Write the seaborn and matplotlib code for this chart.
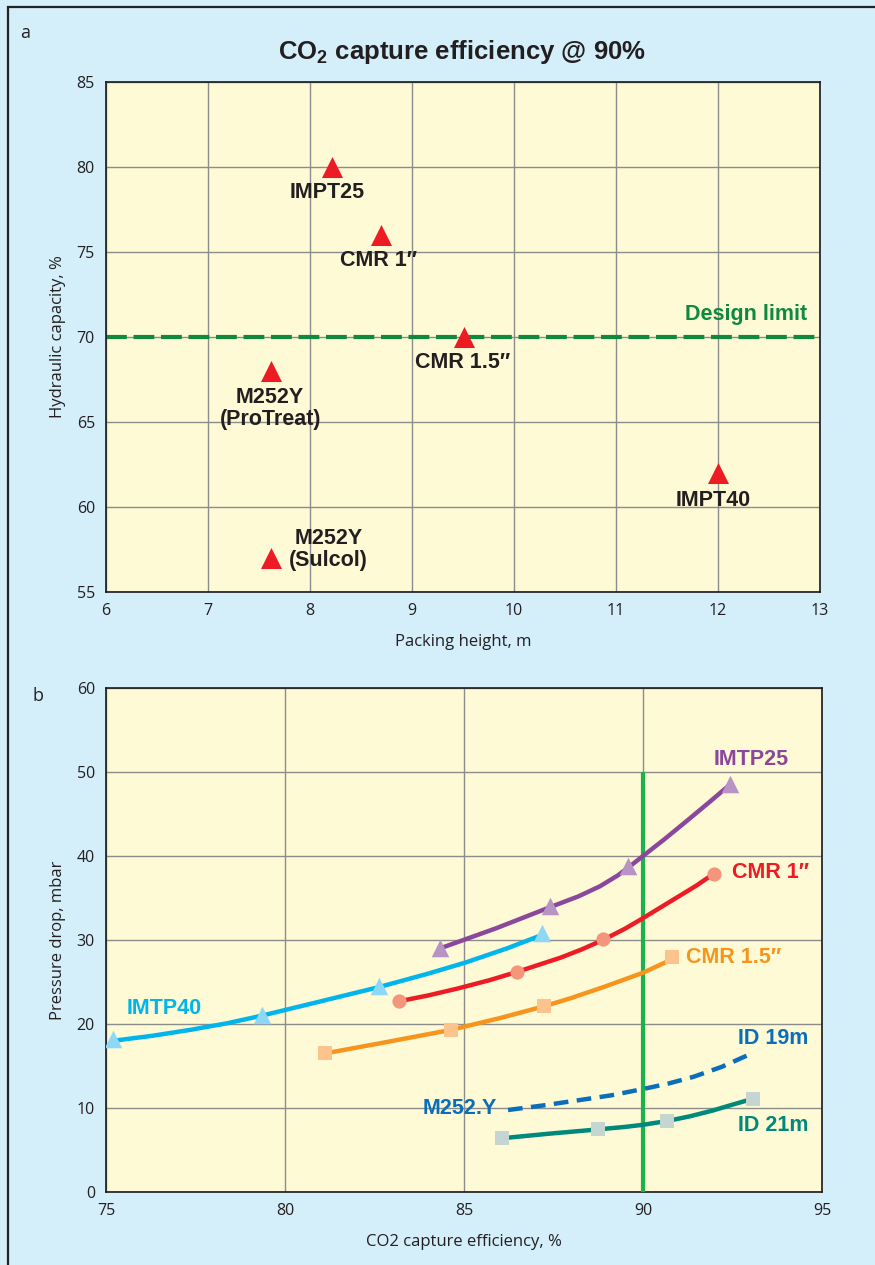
import matplotlib
matplotlib.use("Agg")
import matplotlib.pyplot as plt
from matplotlib.patches import Rectangle
import seaborn as sns
import pandas as pd

# ---------------- data: panel a ----------------
packings_a = ["IMPT25", "CMR 1\u2033", "CMR 1.5\u2033", "M252Y\n(ProTreat)", "IMPT40", "M252Y\n(Sulcol)"]
packing_height = [8.22, 8.70, 9.51, 7.62, 12.00, 7.62]
hydraulic_capacity = [80.0, 76.0, 70.0, 68.0, 62.0, 57.0]
design_limit = 70.0
xticks_a = [6, 7, 8, 9, 10, 11, 12, 13]
yticks_a = [55, 60, 65, 70, 75, 80, 85]

# ---------------- data: panel b ----------------
# measured points (markers)
imtp40_x = [75.2, 79.36, 82.63, 87.18]
imtp40_y = [18.2, 21.1, 24.5, 30.8]
imtp25_x = [84.33, 87.4, 89.58, 92.43]
imtp25_y = [29.0, 34.0, 38.8, 48.6]
cmr1_x = [83.18, 86.48, 88.88, 91.98]
cmr1_y = [22.7, 26.2, 30.1, 37.9]
cmr15_x = [81.12, 84.64, 87.23, 90.81]
cmr15_y = [16.5, 19.3, 22.1, 28.0]
id21_x = [86.06, 88.74, 90.67, 93.07]
id21_y = [6.4, 7.5, 8.45, 11.1]

# fitted curves through the points
imtp40_cx = [75.2, 76.3, 77.35, 78.4, 79.36, 81.0, 82.63, 84.0, 85.03, 86.2, 87.18]
imtp40_cy = [18.0, 18.6, 19.3, 20.1, 21.0, 22.7, 24.4, 26.0, 27.3, 29.0, 30.6]
imtp25_cx = [84.33, 85.9, 87.4, 88.2, 88.8, 89.3, 89.58, 90.0, 90.6, 91.23, 91.85, 92.43]
imtp25_cy = [29.0, 31.4, 33.9, 35.2, 36.4, 37.7, 38.6, 40.0, 42.0, 44.2, 46.4, 48.5]
cmr1_cx = [83.18, 84.0, 84.8, 85.7, 86.48, 87.7, 88.3, 88.88, 89.5, 90.0, 90.5, 91.0, 91.5, 91.98]
cmr1_cy = [22.7, 23.4, 24.2, 25.2, 26.2, 27.9, 28.9, 30.0, 31.35, 32.6, 33.9, 35.2, 36.5, 37.9]
cmr15_cx = [81.12, 82.65, 84.64, 86.0, 87.23, 88.0, 88.9, 90.0, 90.81]
cmr15_cy = [16.5, 17.7, 19.3, 20.7, 22.1, 23.1, 24.4, 26.1, 27.7]
id21_cx = [86.06, 87.4, 88.74, 89.5, 90.0, 90.67, 91.3, 91.95, 92.5, 93.07]
id21_cy = [6.4, 6.95, 7.45, 7.75, 8.0, 8.45, 9.0, 9.7, 10.4, 11.1]
id19_cx = [86.23, 87.2, 88.24, 89.1, 90.0, 90.7, 91.4, 92.2, 93.04]
id19_cy = [9.76, 10.3, 10.95, 11.5, 12.26, 12.9, 13.7, 14.9, 16.5]

capture_target = 90.0
capture_target_top = 50.0
xticks_b = [75, 80, 85, 90, 95]
yticks_b = [0, 10, 20, 30, 40, 50, 60]

# ---------------- styling ----------------
BG = "#d4eefa"
PANEL = "#fefad6"
GRID = "#8c8c8c"
DARK = "#231f20"
BOLD_FONT = ["Liberation Sans", "DejaVu Sans"]
TICK_FONT = ["Open Sans", "DejaVu Sans"]
LABEL_SIZE = 15.5

sns.set_style("white")
plt.rcParams["font.family"] = TICK_FONT
plt.rcParams["mathtext.fontset"] = "custom"
plt.rcParams["mathtext.rm"] = "Liberation Sans:bold"
plt.rcParams["mathtext.it"] = "Liberation Sans:bold"
plt.rcParams["mathtext.bf"] = "Liberation Sans:bold"
plt.rcParams["lines.solid_capstyle"] = "round"
plt.rcParams["lines.solid_joinstyle"] = "round"

fig = plt.figure(figsize=(8.75, 12.65), dpi=100, facecolor=BG)
W, H = 875.0, 1265.0

# outer frame (open on right and bottom)
fig.patches.append(Rectangle((8 / W, -0.1), 1.2, 1 - 7 / H + 0.1, transform=fig.transFigure,
                             fill=False, edgecolor="#222222", linewidth=1.6, zorder=0))

ax_a = fig.add_axes([106 / W, 1 - 592 / H, 714 / W, 510 / H])
ax_b = fig.add_axes([106 / W, 1 - 1192 / H, 716 / W, 504 / H])


def style_axes(ax, xt, yt):
    ax.set_facecolor(PANEL)
    ax.set_xticks(xt)
    ax.set_yticks(yt)
    ax.set_xlim(xt[0], xt[-1])
    ax.set_ylim(yt[0], yt[-1])
    ax.grid(True, color=GRID, linewidth=1.0, zorder=0)
    ax.set_axisbelow(True)
    for s in ax.spines.values():
        s.set_color("#1a1a1a")
        s.set_linewidth(1.2)
    ax.tick_params(axis="both", length=0, pad=8, labelsize=11.5, labelcolor=DARK)
    for lab in ax.get_xticklabels() + ax.get_yticklabels():
        lab.set_family(TICK_FONT)


# ---------------- panel a ----------------
style_axes(ax_a, xticks_a, yticks_a)
ax_a.axhline(design_limit, color="#0f8a3c", linewidth=3.0, linestyle=(0, (5, 1.6)), zorder=2)
df_a = pd.DataFrame({"h": packing_height, "cap": hydraulic_capacity, "name": packings_a})
sns.scatterplot(data=df_a, x="h", y="cap", marker="^", s=230, color="#ed1c24",
                linewidth=0, ax=ax_a, zorder=4, legend=False)
ax_a.set_xlabel("Packing height, m", fontsize=12, color=DARK, labelpad=11)
ax_a.set_ylabel("Hydraulic capacity, %", fontsize=12, color=DARK, labelpad=8)

lab_a = dict(fontsize=LABEL_SIZE, fontweight="bold", color=DARK, family=BOLD_FONT,
             ha="center", va="center", zorder=5, linespacing=1.1)
ax_a.text(8.17, 78.5, packings_a[0], **lab_a)
ax_a.text(8.67, 74.5, packings_a[1], **lab_a)
ax_a.text(9.50, 68.5, packings_a[2], **lab_a)
ax_a.text(7.61, 65.8, packings_a[3], **lab_a)
ax_a.text(11.95, 60.4, packings_a[4], **lab_a)
ax_a.text(8.18, 57.5, packings_a[5], **lab_a)
ax_a.text(12.87, 71.3, "Design limit", fontsize=LABEL_SIZE, fontweight="bold", color="#0f8a3c",
          family=BOLD_FONT, ha="right", va="center", zorder=5)

fig.text(462 / W, 1 - 52 / H, r"CO$_2$ capture efficiency @ 90%", fontsize=18.5,
         fontweight="bold", color=DARK, family=BOLD_FONT, ha="center", va="center")
fig.text(20 / W, 1 - 33 / H, "a", fontsize=13, color=DARK, ha="left", va="center")

# ---------------- panel b ----------------
style_axes(ax_b, xticks_b, yticks_b)
ax_b.set_xlabel("CO2 capture efficiency, %", fontsize=12, color=DARK, labelpad=11)
ax_b.set_ylabel("Pressure drop, mbar", fontsize=12, color=DARK, labelpad=8)

ax_b.vlines(capture_target, 0, capture_target_top, color="#1bb14b", linewidth=3.0, zorder=3)

series = [
    (imtp40_cx, imtp40_cy, imtp40_x, imtp40_y, "#00b4ec", "#8ed8f6", "^", 160),
    (imtp25_cx, imtp25_cy, imtp25_x, imtp25_y, "#8a479b", "#b893c6", "^", 160),
    (cmr1_cx, cmr1_cy, cmr1_x, cmr1_y, "#ed1c24", "#f4967c", "o", 105),
    (cmr15_cx, cmr15_cy, cmr15_x, cmr15_y, "#f7941d", "#fcc48c", "s", 100),
    (id21_cx, id21_cy, id21_x, id21_y, "#00897a", "#c5d6d2", "s", 110),
]
for cx, cy, mx, my, lc, mc, mk, ms in series:
    sns.lineplot(x=cx, y=cy, sort=False, estimator=None, color=lc, linewidth=3.2,
                 ax=ax_b, zorder=4, legend=False)
    sns.scatterplot(x=mx, y=my, marker=mk, s=ms, color=mc, linewidth=0,
                    ax=ax_b, zorder=5, legend=False)

sns.lineplot(x=id19_cx, y=id19_cy, sort=False, estimator=None, color="#0a6eb8",
             linewidth=3.2, ax=ax_b, zorder=4, legend=False)
dashed = ax_b.lines[-1]
dashed.set_linestyle((0, (3.3, 1.9)))
dashed.set_dash_capstyle("butt")

lab_b = dict(fontsize=LABEL_SIZE, fontweight="bold", family=BOLD_FONT, va="center", zorder=6)
ax_b.text(91.98, 51.5, "IMTP25", color="#8a479b", ha="left", **lab_b)
ax_b.text(92.49, 38.0, "CMR 1\u2033", color="#ed1c24", ha="left", **lab_b)
ax_b.text(91.2, 27.9, "CMR 1.5\u2033", color="#f7941d", ha="left", **lab_b)
ax_b.text(92.65, 18.3, "ID 19m", color="#0a6eb8", ha="left", **lab_b)
ax_b.text(92.65, 7.9, "ID 21m", color="#00897a", ha="left", **lab_b)
ax_b.text(85.92, 9.9, "M252.Y", color="#0a6eb8", ha="right", **lab_b)
ax_b.text(75.59, 21.9, "IMTP40", color="#00b4ec", ha="left", **lab_b)

fig.text(33 / W, 1 - 696 / H, "b", fontsize=13, color=DARK, ha="left", va="center")

fig.savefig("out.png", dpi=100, facecolor=BG)
